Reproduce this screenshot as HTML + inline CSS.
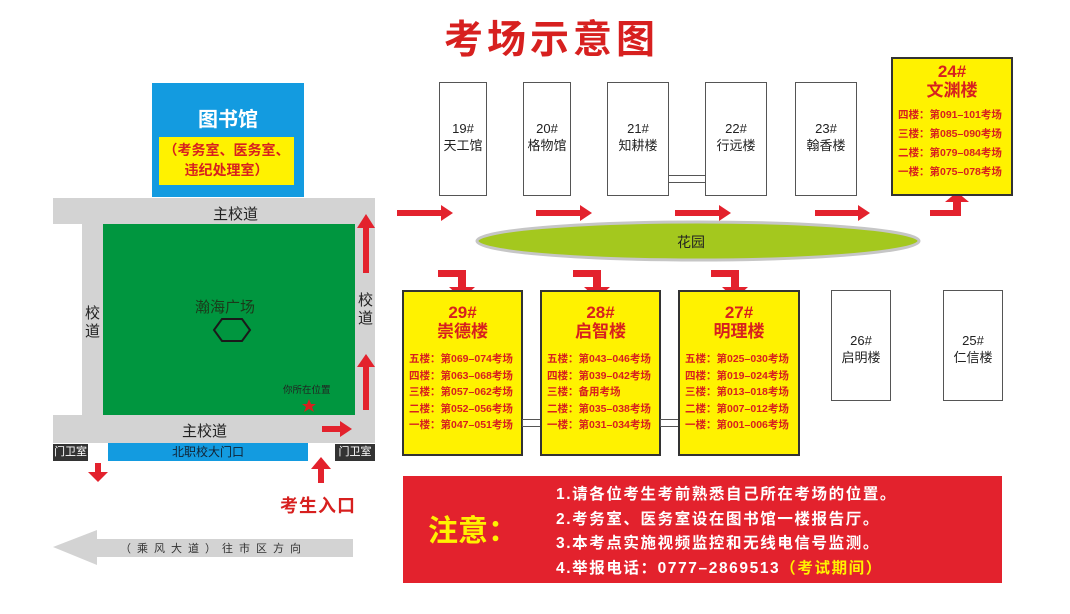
<!DOCTYPE html>
<html><head><meta charset="utf-8"><style>
*{margin:0;padding:0;box-sizing:border-box}
body{width:1070px;height:614px;background:#fff;position:relative;overflow:hidden;font-family:"Liberation Sans","Noto Sans CJK SC",sans-serif}
.a{position:absolute}
.bld{position:absolute;border:1.5px solid #555;background:#fff;text-align:center;font-size:13px;color:#222;line-height:17px}
.yb{position:absolute;background:#fff200;border:2px solid #333;color:#d7201f;text-align:center;font-weight:bold}
.yb .n{font-size:17px;line-height:19px}
.yb .l{font-size:10.5px;line-height:16.5px;text-align:left;padding-left:5px;white-space:nowrap}
.gray{position:absolute;background:#d3d3d3}
</style></head><body>
<div class="a" style="left:444px;top:9px;font-size:39px;font-weight:bold;color:#d7201f;letter-spacing:4px">考场示意图</div>

<!-- library -->
<div class="a" style="left:152px;top:83px;width:152px;height:114px;background:#139be0"></div>
<div class="a" style="left:152px;top:103px;width:152px;text-align:center;color:#fff;font-weight:bold;font-size:20px">图书馆</div>
<div class="a" style="left:159px;top:137px;width:135px;height:48px;background:#fff200;color:#d7201f;font-size:14px;line-height:20px;text-align:center;padding-top:3px;font-weight:bold">（考务室、医务室、<br>违纪处理室）</div>

<!-- roads -->
<div class="gray" style="left:53px;top:198px;width:322px;height:26px"></div>
<div class="gray" style="left:82px;top:224px;width:22px;height:192px"></div>
<div class="gray" style="left:355px;top:224px;width:20px;height:192px"></div>
<div class="gray" style="left:53px;top:415px;width:322px;height:28px"></div>
<div class="a" style="left:103px;top:224px;width:252px;height:191px;background:#00963f"></div>
<div class="a" style="left:213px;top:203px;font-size:15px;color:#222">主校道</div>
<div class="a" style="left:182px;top:420px;font-size:15px;color:#222">主校道</div>
<div class="a" style="left:85px;top:305px;width:16px;font-size:15px;line-height:18px;color:#222">校道</div>
<div class="a" style="left:358px;top:292px;width:16px;font-size:15px;line-height:18px;color:#222">校道</div>
<div class="a" style="left:195px;top:296px;font-size:15px;color:#1a3a1a">瀚海广场</div>
<svg class="a" style="left:0;top:0" width="1070" height="614">
<polygon points="214,330 222,319 242,319 250,330 242,341 222,341" fill="none" stroke="#1a1a1a" stroke-width="2"/>
<polygon points="309,399 311,404 316,404 312,407 314,412 309,409 304,412 306,407 302,404 307,404" fill="#d7201f"/>
<ellipse cx="698" cy="241" rx="221" ry="19" fill="#a4c81e" stroke="#c6c6c6" stroke-width="3"/>
<polygon points="53,547 97,530 97,539 353,539 353,557 97,557 97,565" fill="#d3d3d3"/>
<g fill="#e3222d">
<polygon points="397,210 441,210 441,205 453,213 441,221 441,216 397,216"/>
<polygon points="536,210 580,210 580,205 592,213 580,221 580,216 536,216"/>
<polygon points="675,210 719,210 719,205 731,213 719,221 719,216 675,216"/>
<polygon points="815,210 858,210 858,205 870,213 858,221 858,216 815,216"/>
<polygon points="438,270 466,270 466,287 475,287 462,299 449,287 458,287 458,277 438,277"/>
<polygon points="573,270 601,270 601,287 610,287 597,299 584,287 593,287 593,277 573,277"/>
<polygon points="711,270 739,270 739,287 748,287 735,299 722,287 731,287 731,277 711,277"/>
<polygon points="930,210 953,210 953,202 945,202 957,192 969,202 961,202 961,216 930,216"/>
<polygon points="363,273 369,273 369,228 375,228 366,214 357,228 363,228"/>
<polygon points="363,410 369,410 369,367 375,367 366,354 357,367 363,367"/>
<polygon points="322,426 340,426 340,421 352,429 340,437 340,432 322,432"/>
<polygon points="318,483 324,483 324,469 331,469 321,457 311,469 318,469"/>
<polygon points="95,463 101,463 101,472 108,472 98,482 88,472 95,472"/>
</g>
</svg>
<div class="a" style="left:283px;top:382px;font-size:9.5px;color:#222">你所在位置</div>
<div class="a" style="left:53px;top:444px;width:35px;height:17px;background:#333;color:#fff;font-size:11px;line-height:17px;text-align:center">门卫室</div>
<div class="a" style="left:335px;top:444px;width:40px;height:17px;background:#333;color:#fff;font-size:11px;line-height:17px;text-align:center">门卫室</div>
<div class="a" style="left:108px;top:443px;width:200px;height:18px;background:#139be0;color:#123;font-size:12px;line-height:18px;text-align:center">北职校大门口</div>
<div class="a" style="left:280px;top:492px;font-size:18px;font-weight:bold;color:#d7201f;letter-spacing:1px">考生入口</div>
<div class="a" style="left:120px;top:540px;font-size:11px;color:#333;letter-spacing:6px">（乘风大道）往市区方向</div>

<div class="bld" style="left:439px;top:82px;width:48px;height:114px;padding-top:37px">19#<br>天工馆</div>
<div class="bld" style="left:523px;top:82px;width:48px;height:114px;padding-top:37px">20#<br>格物馆</div>
<div class="bld" style="left:607px;top:82px;width:62px;height:114px;padding-top:37px">21#<br>知耕楼</div>
<div class="bld" style="left:668px;top:175px;width:38px;height:8px"></div>
<div class="bld" style="left:705px;top:82px;width:62px;height:114px;padding-top:37px">22#<br>行远楼</div>
<div class="bld" style="left:795px;top:82px;width:62px;height:114px;padding-top:37px">23#<br>翰香楼</div>
<div class="a" style="left:677px;top:232px;font-size:14px;color:#222">花园</div>

<div class="yb" style="left:891px;top:57px;width:122px;height:139px;padding-top:3px"><div class="n">24#<br>文渊楼</div>
<div class="l" style="margin-top:6px;line-height:19px">四楼：第091–101考场<br>三楼：第085–090考场<br>二楼：第079–084考场<br>一楼：第075–078考场</div></div>

<div class="yb" style="left:402px;top:290px;width:121px;height:166px;padding-top:11px"><div class="n">29#<br>崇德楼</div>
<div class="l" style="margin-top:10px">五楼：第069–074考场<br>四楼：第063–068考场<br>三楼：第057–062考场<br>二楼：第052–056考场<br>一楼：第047–051考场</div></div>
<div class="bld" style="left:522px;top:419px;width:20px;height:8px"></div>
<div class="yb" style="left:540px;top:290px;width:121px;height:166px;padding-top:11px"><div class="n">28#<br>启智楼</div>
<div class="l" style="margin-top:10px">五楼：第043–046考场<br>四楼：第039–042考场<br>三楼：备用考场<br>二楼：第035–038考场<br>一楼：第031–034考场</div></div>
<div class="bld" style="left:660px;top:419px;width:20px;height:8px"></div>
<div class="yb" style="left:678px;top:290px;width:122px;height:166px;padding-top:11px"><div class="n">27#<br>明理楼</div>
<div class="l" style="margin-top:10px">五楼：第025–030考场<br>四楼：第019–024考场<br>三楼：第013–018考场<br>二楼：第007–012考场<br>一楼：第001–006考场</div></div>

<div class="bld" style="left:831px;top:290px;width:60px;height:111px;padding-top:41px">26#<br>启明楼</div>
<div class="bld" style="left:943px;top:290px;width:60px;height:111px;padding-top:41px">25#<br>仁信楼</div>

<div class="a" style="left:403px;top:476px;width:599px;height:107px;background:#e3222d"></div>
<div class="a" style="left:428px;top:506px;font-size:30px;font-weight:bold;color:#fff200">注意：</div>
<div class="a" style="left:556px;top:483px;font-size:15.5px;font-weight:bold;color:#fff;line-height:24.5px;letter-spacing:1.6px;white-space:nowrap">1.请各位考生考前熟悉自己所在考场的位置。<br>2.考务室、医务室设在图书馆一楼报告厅。<br>3.本考点实施视频监控和无线电信号监测。<br>4.举报电话：0777–2869513<span style="color:#fff200">（考试期间）</span></div>
</body></html>
